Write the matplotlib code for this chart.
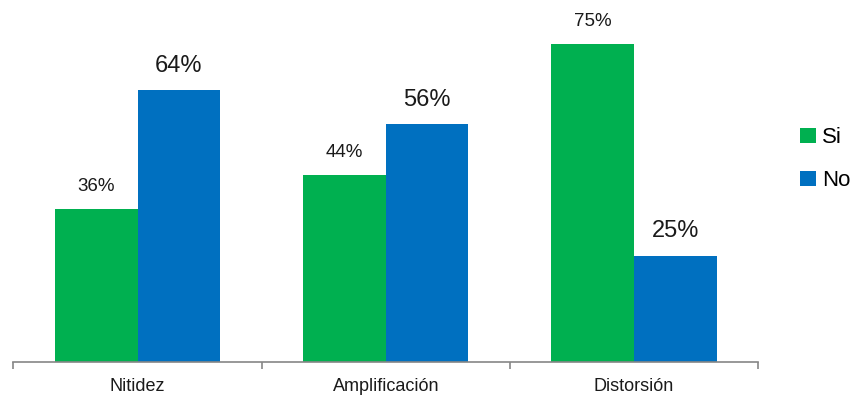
import matplotlib
matplotlib.use("Agg")
import matplotlib.pyplot as plt
import numpy as np

plt.rcParams['font.family'] = ['Liberation Sans Narrow', 'Liberation Sans', 'DejaVu Sans']

categorias = ["Nitidez", "Amplificación", "Distorsión"]
si = [36, 44, 75]
no = [64, 56, 25]

GREEN = "#00B050"
BLUE = "#0070C0"
# tamaño de letra de las etiquetas de cada serie
tam_si = [13.5, 13.5, 13.5]
tam_no = [17, 17, 17]

fig = plt.figure(figsize=(8.59, 3.98), dpi=100)
ax = fig.add_axes([13.5 / 859, (398 - 361.5) / 398, (758 - 13.5) / 859, (361.5 - 22.3) / 398])

x = np.arange(len(categorias))
w = 1 / 3
b1 = ax.bar(x - w / 2, si, width=w, color=GREEN, label="Si")
b2 = ax.bar(x + w / 2, no, width=w, color=BLUE, label="No")

for rects, vals, tams in [(b1, si, tam_si), (b2, no, tam_no)]:
    for r, v, t in zip(rects, vals, tams):
        ax.annotate(f"{v}%", (r.get_x() + r.get_width() / 2, v),
                    xytext=(0, 9.5 if t > 15 else 10), textcoords="offset points",
                    ha="center", va="bottom", fontsize=t, color="#1a1a1a")

ax.set_xlim(-0.5, 2.5)
ax.set_ylim(0, 80)
ax.set_yticks([])
for s in ["top", "right", "left"]:
    ax.spines[s].set_visible(False)
ax.spines["bottom"].set_color("#868686")
ax.spines["bottom"].set_linewidth(1.2)

ax.set_xticks([-0.5, 0.5, 1.5, 2.5])
ax.set_xticklabels([])
ax.tick_params(axis="x", which="major", length=5, width=1.2, color="#868686")
ax.set_xticks(x, minor=True)
ax.set_xticklabels(categorias, minor=True, fontsize=13, color="#1a1a1a")
ax.tick_params(axis="x", which="minor", length=0, pad=12)

ax.legend(loc="center left", bbox_to_anchor=(800 / 859, 0.60), bbox_transform=fig.transFigure,
          frameon=False, fontsize=16, handlelength=0.7, handleheight=0.7,
          handletextpad=0.3, labelspacing=1.0, borderaxespad=0, borderpad=0)

fig.savefig("out.png", dpi=100)
